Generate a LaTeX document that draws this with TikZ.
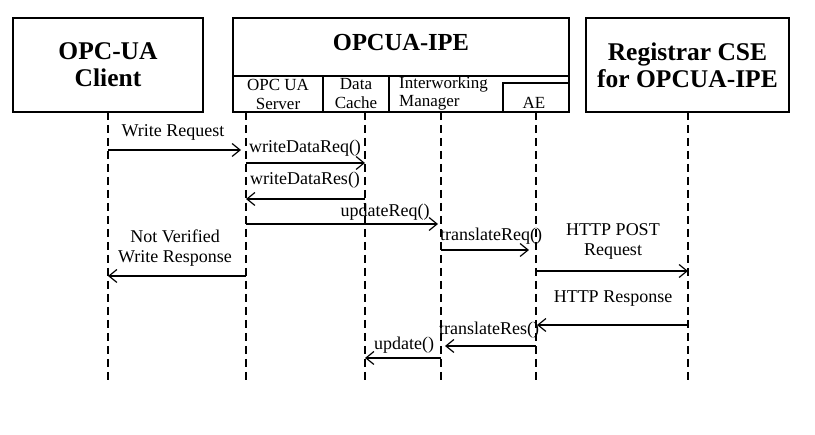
\documentclass[tikz,border=0pt]{standalone}
\usepackage{fontspec}
\setmainfont{Liberation Serif}
\usetikzlibrary{arrows.meta}
\begin{document}
\begin{tikzpicture}[x=1pt,y=-1pt,
  box/.style={draw, line width=1.3pt, inner sep=0pt},
  title/.style={font=\fontsize{25.5}{27}\selectfont\bfseries, align=center},
  subt/.style={font=\fontsize{17}{19}\selectfont, align=center},
  lbl/.style={font=\fontsize{18}{20}\selectfont, align=center, anchor=base, inner sep=0pt},
  life/.style={line width=1.2pt, dash pattern=on 8pt off 5pt},
  msg/.style={line width=1.2pt, -{Straight Barb[length=8pt,width=13pt,line width=1.2pt]}}
]
\useasboundingbox (0,0) rectangle (815,435);
% boxes
\node[box, title, minimum width=190pt, minimum height=94pt] (client) at (108,65) {OPC-UA\\Client};
\node[box, minimum width=336pt, minimum height=58pt] (ipe) at (401,47) {};
\node[title, font=\fontsize{24.5}{26}\selectfont\bfseries] (ipet) at (401,43) {OPCUA-IPE};
\node[box, subt, minimum width=90pt, minimum height=36pt] (srv) at (278,94) {OPC UA\\Server};
\node[box, subt, minimum width=66pt, minimum height=36pt] (cache) at (356,94) {Data\\Cache};
\node[box, minimum width=180pt, minimum height=36pt] (mgr) at (479,94) {};
\node[box, minimum width=66pt, minimum height=29pt] (ae) at (536,97.5) {};
\node[subt, anchor=base west, inner sep=0pt] (mgrt1) at (399,89) {Interworking};
\node[subt, anchor=base west, inner sep=0pt] (mgrt2) at (399,107) {Manager};
\node[subt, anchor=base, inner sep=0pt] (aet) at (534,109) {AE};
\node[box, title, minimum width=203pt, minimum height=94pt] (reg) at (687.5,65) {Registrar CSE\\for OPCUA-IPE};
% lifelines
\coordinate (Lc) at (108,112);   \coordinate (Lce) at (108,380);
\coordinate (Ls) at (246,112);   \coordinate (Lse) at (246,380);
\coordinate (Ld) at (365,112);   \coordinate (Lde) at (365,380);
\coordinate (Lm) at (441,112);   \coordinate (Lme) at (441,380);
\coordinate (La) at (536,112);   \coordinate (Lae) at (536,380);
\coordinate (Lr) at (688,112);   \coordinate (Lre) at (688,380);
\foreach \a/\b in {Lc/Lce,Ls/Lse,Ld/Lde,Lm/Lme,La/Lae,Lr/Lre}
  \draw[life] (\a) -- (\b);
% messages
\draw[msg, shorten >=5pt] (Lc|-0,150) -- (Ls|-0,150);
\node[lbl] (m1) at (173,137) {Write Request};
\draw[msg] (Ls|-0,163) -- (Ld|-0,163);
\node[lbl] (m2) at (305,153) {writeDataReq()};
\draw[msg] (Ld|-0,199) -- (Ls|-0,199);
\node[lbl] (m3) at (305,185) {writeDataRes()};
\draw[msg, shorten >=3pt] (Ls|-0,224) -- (Lm|-0,224);
\node[lbl] (m4) at (385,217) {updateReq()};
\draw[msg, shorten >=7pt] (Lm|-0,250) -- (La|-0,250);
\node[lbl] (m5) at (491,241) {translateReq()};
\draw[msg] (Ls|-0,276) -- (Lc|-0,276);
\node[lbl] (m6) at (175,263) {Not Verified\\Write Response};
\draw[msg] (La|-0,271) -- (Lr|-0,271);
\node[lbl] (m7) at (613,256) {HTTP POST\\Request};
\draw[msg, shorten >=1pt] (Lr|-0,325) -- (La|-0,325);
\node[lbl] (m8) at (613,303) {HTTP Response};
\draw[msg, shorten >=4pt] (La|-0,346) -- (Lm|-0,346);
\node[lbl] (m9) at (489,335) {translateRes()};
\draw[msg] (Lm|-0,358) -- (Ld|-0,358);
\node[lbl] (m10) at (404,350) {update()};
\end{tikzpicture}
\end{document}
